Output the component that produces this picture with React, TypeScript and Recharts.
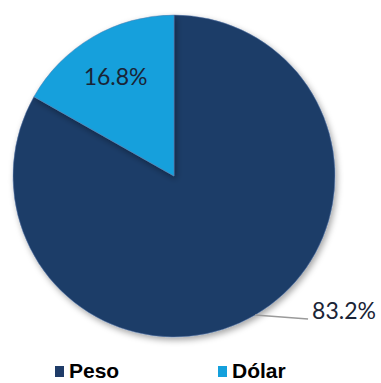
import React from "react";
import { PieChart, Pie, Cell } from "recharts";

// currency share pie: peso vs dólar
const names = ["Peso", "Dólar"];
const shares = [83.2, 16.8];
const colors = ["#1f3c68", "#14a0dc"];

const data = names.map((name, i) => ({ name, value: shares[i] }));

const RADIAN = Math.PI / 180;

function renderLabel(props: any) {
  const { cx, cy, midAngle, outerRadius, value, index } = props;
  const cos = Math.cos(-midAngle * RADIAN);
  const sin = Math.sin(-midAngle * RADIAN);
  const font = { fontFamily: "Lato, 'Open Sans', sans-serif", fontSize: 23, fill: "#1a2436" };
  if (index === 1) {
    // inside label
    const r = outerRadius * 0.72;
    return (
      <text x={cx + r * cos} y={cy + r * sin} textAnchor="middle" dominantBaseline="central" {...font}>
        {`${value}%`}
      </text>
    );
  }
  // outside label with leader line
  const sx = cx + outerRadius * cos;
  const sy = cy + outerRadius * sin;
  const ex = sx + 53;
  const ey = sy + 4;
  return (
    <g>
      <polyline points={`${sx},${sy} ${ex},${ey}`} stroke="#9a9a9a" strokeWidth={1.5} fill="none" />
      <text x={ex + 4} y={ey - 9} textAnchor="start" dominantBaseline="central" {...font}>
        {`${value}%`}
      </text>
    </g>
  );
}

export default function App() {
  return (
    <div style={{ position: "absolute", left: 0, top: 0, width: 381, height: 383, background: "#fff", overflow: "hidden" }}>
      <PieChart width={381} height={383} margin={{ top: 0, right: 0, bottom: 0, left: 0 }}>
        <defs>
          <filter id="sh" x="-20%" y="-20%" width="140%" height="140%">
            <feDropShadow dx="2" dy="3" stdDeviation="3" floodColor="#000" floodOpacity="0.35" />
          </filter>
        </defs>
        <Pie
          data={data}
          dataKey="value"
          nameKey="name"
          cx={174}
          cy={176}
          outerRadius={161}
          startAngle={90}
          endAngle={-270}
          stroke="#5a7fae"
          strokeWidth={0.5}
          label={renderLabel}
          labelLine={false}
          isAnimationActive={false}
        >
          {data.map((d, i) => (
            <Cell key={d.name} fill={colors[i]} filter="url(#sh)" />
          ))}
        </Pie>
      </PieChart>
      {/* legend */}
      <div style={{ position: "absolute", left: 55, top: 360, display: "flex" }}>
        {names.map((n, i) => (
          <div key={n} style={{ width: 163, display: "flex", alignItems: "center", height: 22 }}>
            <span style={{ width: 9, height: 11, background: colors[i], display: "inline-block", marginRight: 5 }} />
            <span style={{ fontFamily: "Arial, 'Liberation Sans', sans-serif", fontWeight: "bold", fontSize: 21, lineHeight: "22px", color: "#000" }}>
              {n}
            </span>
          </div>
        ))}
      </div>
    </div>
  );
}
